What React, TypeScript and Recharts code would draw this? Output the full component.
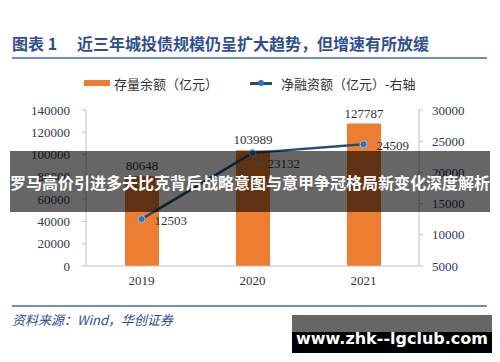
import React from "react";
import { ComposedChart, Bar, Line, XAxis, YAxis, LabelList } from "recharts";

const years = ["2019", "2020", "2021"];
const stockBalance = [80648, 103989, 127787];
const netFinancing = [12503, 23132, 24509];
const leftTicks = [0, 20000, 40000, 60000, 80000, 100000, 120000, 140000];
const rightTicks = [5000, 10000, 15000, 20000, 25000, 30000];

const data = years.map((y, i) => ({ year: y, stock: stockBalance[i], net: netFinancing[i] }));

const serif = "'Liberation Serif', 'Times New Roman', serif";
const cjk = "'Noto Sans CJK SC', 'Noto Sans', sans-serif";

const LineLabel = (props: any) => {
  const { x, y, value, index } = props;
  if (index === 1) {
    return (
      <g>
        <polyline points={`${x + 4},${y + 3} ${x + 4},${y + 11} ${x + 12},${y + 11}`} fill="none" stroke="#a6a6a6" strokeWidth={1} />
        <text x={x + 15} y={y + 11} dy="0.35em" fontFamily={serif} fontSize={13} fill="#333">{value}</text>
      </g>
    );
  }
  return (
    <text x={x + 13} y={y + 1} dy="0.35em" fontFamily={serif} fontSize={13} fill="#333">{value}</text>
  );
};

export default function App() {
  return (
    <div style={{ position: "absolute", left: 0, top: 0, width: 500, height: 362, background: "#fff", overflow: "hidden" }}>
      <div style={{ position: "absolute", left: 12, top: 33, fontFamily: cjk, fontWeight: 700, fontSize: 16, color: "#2f4f8f", whiteSpace: "nowrap", lineHeight: "20px" }}>
        <span>图表 1</span>
        <span style={{ marginLeft: 20 }}>近三年城投债规模仍呈扩大趋势，但增速有所放缓</span>
      </div>
      <div style={{ position: "absolute", left: 12, top: 57, width: 475, height: 2, background: "#6f8fbf" }} />

      <div style={{ position: "absolute", left: 84, top: 74, fontFamily: cjk, fontSize: 13, color: "#333", whiteSpace: "nowrap", display: "flex", alignItems: "center", height: 18 }}>
        <span style={{ display: "inline-block", width: 26, height: 6, background: "#ed7d31", marginRight: 4 }} />
        <span>存量余额（亿元）</span>
        <span style={{ display: "inline-block", position: "relative", width: 22, height: 8, marginLeft: 32, marginRight: 9 }}>
          <span style={{ position: "absolute", left: 0, top: 3, width: 22, height: 2.5, background: "#1f4e79" }} />
          <span style={{ position: "absolute", left: 8, top: 1, width: 6, height: 6, borderRadius: 3, background: "#2e75b6" }} />
        </span>
        <span>净融资额（亿元）-右轴</span>
      </div>

      <div style={{ position: "absolute", left: 0, top: 0 }}>
        <ComposedChart width={500} height={362} data={data} margin={{ top: 110, right: 11, bottom: 66, left: 10 }}>
          <XAxis dataKey="year" tickLine={false} axisLine={{ stroke: "#bfbfbf" }} tick={{ fontFamily: serif, fontSize: 13, fill: "#333" }} tickMargin={4} height={30} />
          <YAxis yAxisId="left" domain={[0, 140000]} ticks={leftTicks} interval={0} width={76} tickSize={4} tickMargin={12} axisLine={{ stroke: "#bfbfbf" }} tickLine={{ stroke: "#bfbfbf" }} tick={{ fontFamily: serif, fontSize: 13, fill: "#2b3a55" }} />
          <YAxis yAxisId="right" orientation="right" domain={[5000, 30000]} ticks={rightTicks} interval={0} width={70} tickSize={4} tickMargin={9} axisLine={{ stroke: "#bfbfbf" }} tickLine={{ stroke: "#bfbfbf" }} tick={{ fontFamily: serif, fontSize: 13, fill: "#2b3a55", textAnchor: "start" }} />
          <Bar yAxisId="left" dataKey="stock" fill="#ed7d31" barSize={34} isAnimationActive={false}>
            <LabelList dataKey="stock" position="top" offset={6} style={{ fontFamily: serif, fontSize: 13, fill: "#333" }} />
          </Bar>
          <Line yAxisId="right" dataKey="net" stroke="#1f4e79" strokeWidth={2.5} dot={{ r: 3.5, fill: "#2e75b6", stroke: "#9dc3e6", strokeWidth: 1 }} isAnimationActive={false}>
            <LabelList dataKey="net" content={LineLabel} />
          </Line>
        </ComposedChart>
      </div>

      <div style={{ position: "absolute", left: 12, top: 305, width: 475, height: 2, background: "#6f8fbf" }} />
      <div style={{ position: "absolute", left: 12, top: 311, fontFamily: cjk, fontStyle: "italic", fontSize: 13, color: "#2f4f8f", whiteSpace: "nowrap", lineHeight: "18px" }}>
        资料来源：Wind，华创证券
      </div>

      <div style={{ position: "absolute", left: 10, top: 151, width: 480, height: 61, background: "rgba(0,0,0,0.6)", display: "flex", alignItems: "center", justifyContent: "center" }}>
        <span style={{ fontFamily: cjk, fontWeight: 700, fontSize: 16, color: "#fff", whiteSpace: "nowrap" }}>罗马高价引进多夫比克背后战略意图与意甲争冠格局新变化深度解析</span>
      </div>

      <div style={{ position: "absolute", left: 292, top: 315, width: 200, height: 17, background: "#666" }} />
      <div style={{ position: "absolute", left: 292, top: 332, width: 200, height: 21, background: "#000" }} />
      <div style={{ position: "absolute", left: 292, top: 328, width: 200, height: 20, display: "flex", alignItems: "center", justifyContent: "center" }}>
        <span style={{ fontFamily: "'DejaVu Sans', sans-serif", fontWeight: 700, fontSize: 16, color: "#fff", whiteSpace: "nowrap" }}>www.zhk--lgclub.com</span>
      </div>
    </div>
  );
}
